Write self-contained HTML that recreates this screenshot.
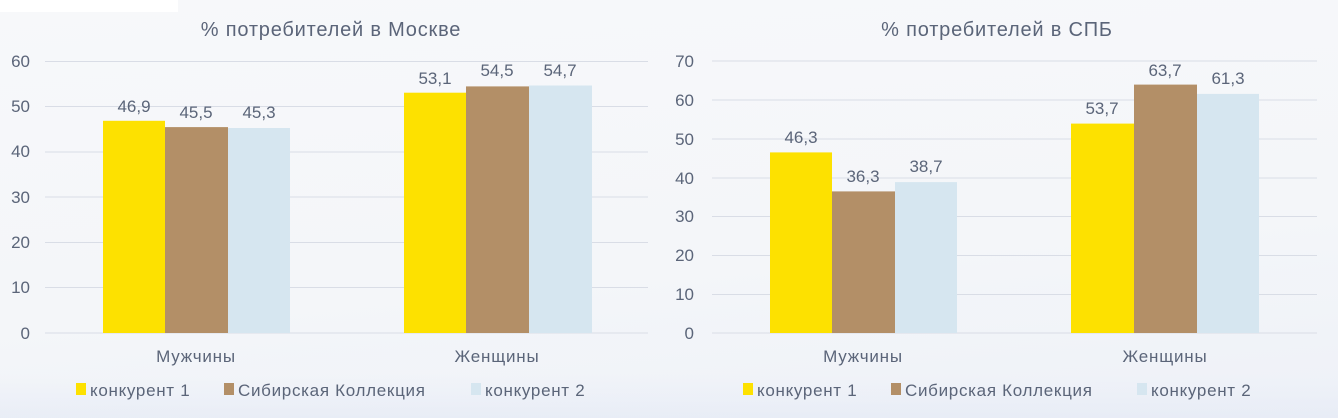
<!DOCTYPE html>
<html><head><meta charset="utf-8"><style>
html,body{margin:0;padding:0;}
body{width:1338px;height:418px;overflow:hidden;background:linear-gradient(175deg,#f7f8fa 0%,#f4f6f9 60%,#eef1f8 100%);}
svg{position:absolute;left:0;top:0;}
text{font-family:"Liberation Sans",sans-serif;fill:#5b6579;}
</style></head><body>
<svg width="1338" height="418" viewBox="0 0 1338 418">
<defs><linearGradient id="bl" x1="0" y1="0" x2="0" y2="1"><stop offset="0.5" stop-color="#e6ebf5" stop-opacity="0"/><stop offset="1" stop-color="#e3e9f5" stop-opacity="0.6"/></linearGradient></defs>
<rect x="0" y="0" width="178" height="12" fill="#ffffff"/>
<rect x="0" y="330" width="1338" height="88" fill="url(#bl)"/>
<g stroke="#d9dde6" stroke-width="1">
<line x1="45" x2="648" y1="61.5" y2="61.5"/><line x1="45" x2="648" y1="106.5" y2="106.5"/><line x1="45" x2="648" y1="152" y2="152"/><line x1="45" x2="648" y1="197" y2="197"/><line x1="45" x2="648" y1="242.5" y2="242.5"/><line x1="45" x2="648" y1="287.5" y2="287.5"/><line x1="45" x2="648" y1="333" y2="333"/>
<line x1="712" x2="1317" y1="61" y2="61"/><line x1="712" x2="1317" y1="100" y2="100"/><line x1="712" x2="1317" y1="139" y2="139"/><line x1="712" x2="1317" y1="178" y2="178"/><line x1="712" x2="1317" y1="216.5" y2="216.5"/><line x1="712" x2="1317" y1="255.5" y2="255.5"/><line x1="712" x2="1317" y1="294.5" y2="294.5"/><line x1="712" x2="1317" y1="333" y2="333"/>
</g>
<rect x="103" y="120.8" width="62" height="212.2" fill="#fde100"/>
<rect x="165" y="127.1" width="63" height="205.9" fill="#b38f67"/>
<rect x="228" y="128" width="62" height="205" fill="#d6e6f0"/>
<rect x="404" y="92.7" width="62" height="240.3" fill="#fde100"/>
<rect x="466" y="86.4" width="63" height="246.6" fill="#b38f67"/>
<rect x="529" y="85.5" width="63" height="247.5" fill="#d6e6f0"/>
<rect x="770" y="152.4" width="62" height="180.6" fill="#fde100"/>
<rect x="832" y="191.4" width="63" height="141.6" fill="#b38f67"/>
<rect x="895" y="182.1" width="62" height="150.9" fill="#d6e6f0"/>
<rect x="1071" y="123.6" width="63" height="209.4" fill="#fde100"/>
<rect x="1134" y="84.6" width="63" height="248.4" fill="#b38f67"/>
<rect x="1197" y="93.9" width="62" height="239.1" fill="#d6e6f0"/>
<g font-size="17" text-anchor="end">
<text x="30" y="67">60</text><text x="30" y="112">50</text><text x="30" y="157">40</text><text x="30" y="203">30</text><text x="30" y="248">20</text><text x="30" y="293">10</text><text x="30" y="339">0</text>
<text x="694" y="67">70</text><text x="694" y="106">60</text><text x="694" y="145">50</text><text x="694" y="184">40</text><text x="694" y="222">30</text><text x="694" y="261">20</text><text x="694" y="300">10</text><text x="694" y="339">0</text>
</g>
<g font-size="17" text-anchor="middle">
<text x="134" y="112">46,9</text><text x="196" y="118">45,5</text><text x="259" y="118">45,3</text>
<text x="435" y="84">53,1</text><text x="497" y="76">54,5</text><text x="560" y="76">54,7</text>
<text x="801" y="143">46,3</text><text x="863" y="182">36,3</text><text x="926" y="172">38,7</text>
<text x="1102" y="114">53,7</text><text x="1165" y="76">63,7</text><text x="1228" y="84">61,3</text>
</g>
<g font-size="17" text-anchor="middle" letter-spacing="0.8">
<text x="196" y="362">Мужчины</text><text x="497" y="362">Женщины</text>
<text x="863" y="362">Мужчины</text><text x="1165" y="362">Женщины</text>
</g>
<g font-size="20" text-anchor="middle" letter-spacing="0.8">
<text x="331" y="36">% потребителей в Москве</text>
<text x="997" y="36">% потребителей в СПБ</text>
</g>
<g font-size="17" letter-spacing="0.7">
<rect x="76" y="383" width="10" height="12" fill="#fde100"/><text x="90" y="396">конкурент 1</text>
<rect x="224" y="383" width="10" height="12" fill="#b38f67"/><text x="238" y="396">Сибирская Коллекция</text>
<rect x="471" y="383" width="10" height="12" fill="#d6e6f0"/><text x="485" y="396">конкурент 2</text>
<rect x="743" y="383" width="10" height="12" fill="#fde100"/><text x="757" y="396">конкурент 1</text>
<rect x="891" y="383" width="10" height="12" fill="#b38f67"/><text x="905" y="396">Сибирская Коллекция</text>
<rect x="1137" y="383" width="10" height="12" fill="#d6e6f0"/><text x="1151" y="396">конкурент 2</text>
</g>
</svg>
</body></html>
